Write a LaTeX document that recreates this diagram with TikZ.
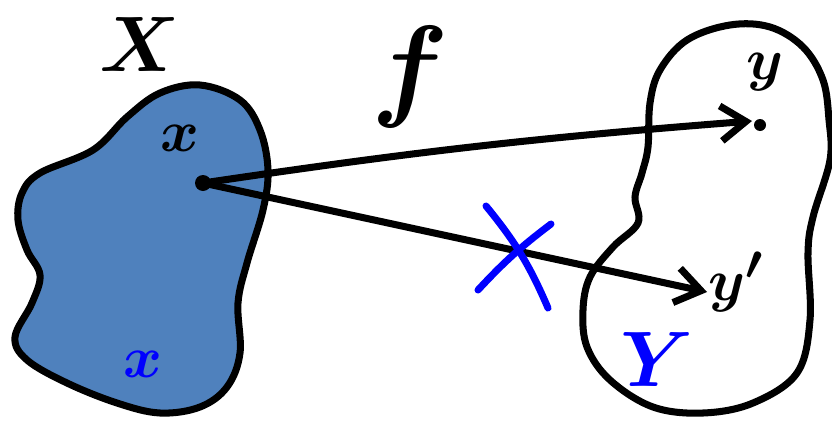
\documentclass[tikz,border=0pt]{standalone}
\usepackage{xcolor}
\usepackage{amsmath}
\usepackage{tikz}
\usetikzlibrary{arrows.meta,positioning}

\definecolor{setfill}{RGB}{79,129,189}

\begin{document}
\begin{tikzpicture}[
  x=0.02cm, y=-0.02cm,
  setline/.style={line width=4pt, line join=round},
  arr/.style={-{Straight Barb[length=5mm,width=7mm,line width=4pt]}, line width=4pt, line cap=round},
  bigsym/.style={font=\boldmath\Huge, inner sep=0pt, scale=1.8},
  ptsym/.style={font=\boldmath\Huge, inner sep=0pt, scale=1.35},
  crossline/.style={line width=4pt, blue, line cap=round}
]
  \useasboundingbox (0,0) rectangle (832,423);

  % the two sets
  \draw[setline, fill=setfill] plot[smooth cycle, tension=0.6] coordinates {
    (200,85) (160,93) (127,117) (93,150) (40,173) (22,193) (18,220) (27,250)
    (40,275) (32,303) (15,337) (27,360) (67,383) (117,403) (160,413) (200,407)
    (227,387) (240,353) (238,303) (247,263) (263,210) (268,170) (260,130) (240,100)};
  \draw[setline] plot[smooth cycle, tension=0.6] coordinates {
    (730,25) (687,40) (660,70) (650,103) (648,147) (642,173) (635,197) (638,223)
    (613,247) (590,277) (583,310) (587,347) (610,380) (653,407) (703,413) (753,403)
    (797,373) (810,320) (808,253) (813,217) (830,160) (829,120) (823,80) (803,47) (770,27)};

  \coordinate (px)  at (203,183);
  \coordinate (py)  at (752,121);
  \coordinate (pyp) at (707,292);

  \fill (px) circle (8);
  \fill (760,125) circle (6);

  \node[bigsym] (lX) at (140,45) {$X$};
  \node[bigsym, scale=1.45] (lf) at (410,77) {$f$};
  \node[ptsym] (lx) at (180,138) {$x$};
  \node[ptsym, text=blue] (lx2) at (143,364) {$x$};
  \node[ptsym] (ly) at (765,72) {$y$};
  \node[ptsym, anchor=west] (lyp) at (708,282) {$y'$};
  \node[bigsym] (lY) at (657,360) {\color{blue}$Y$};

  \draw[arr] (px) to[bend left=2] (py);
  \draw[arr] (px) -- (pyp);

  % not mapped
  \coordinate (c1) at (486,206);
  \coordinate (c2) at (548,308);
  \coordinate (c3) at (478,290);
  \coordinate (c4) at (551,224);
  \draw[crossline] (c1) to[bend left=8] (c2);
  \draw[crossline] (c3) to[bend left=5] (c4);
\end{tikzpicture}
\end{document}
